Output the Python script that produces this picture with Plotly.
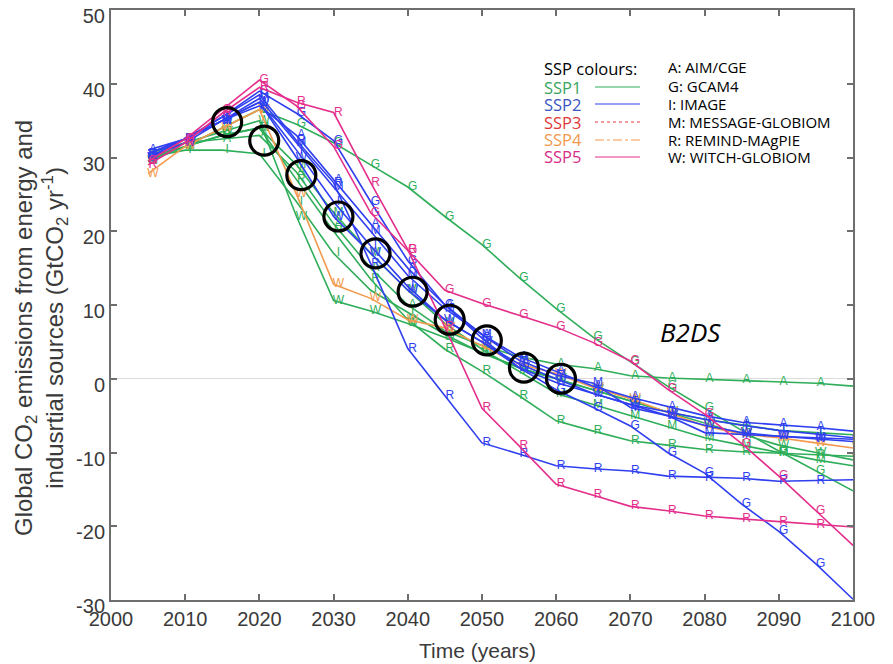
import plotly.graph_objects as go

# ---------------- data ----------------
years = [2005, 2010, 2015, 2020, 2025, 2030, 2035, 2040, 2045, 2050,
         2055, 2060, 2065, 2070, 2075, 2080, 2085, 2090, 2095, 2100]

# SSP1 (green)
ssp1_A = [30.5, 32.0, 32.5, 33.0, 28.0, 21.0, 15.0, 10.0, 6.5, 4.5, 3.0, 2.0, 1.4, 0.4, 0.1, -0.1, -0.2, -0.4, -0.6, -1.0]
ssp1_G = [30.0, 31.5, 34.0, 36.5, 34.5, 32.0, 29.0, 26.0, 22.0, 18.2, 13.7, 9.5, 5.6, 2.3, -1.0, -4.0, -7.0, -9.8, -12.5, -15.2]
ssp1_I = [30.0, 31.0, 31.0, 30.5, 24.0, 17.0, 12.0, 9.0, 6.0, 3.5, 1.5, 0.0, -1.5, -3.0, -4.5, -5.5, -6.3, -7.0, -7.3, -7.6]
ssp1_M = [29.5, 31.5, 33.0, 34.0, 29.0, 22.5, 17.0, 12.0, 7.5, 4.0, 1.0, -2.0, -3.5, -5.0, -6.4, -8.0, -9.0, -10.0, -11.0, -11.8]
ssp1_R = [29.5, 31.5, 33.0, 34.0, 27.0, 20.0, 13.5, 8.0, 4.0, 1.0, -2.3, -5.7, -7.1, -8.4, -9.0, -9.6, -9.9, -10.1, -10.3, -10.5]
ssp1_W = [29.5, 32.0, 33.5, 35.0, 22.0, 10.6, 9.2, 7.5, 5.6, 3.5, 1.5, 0.0, -1.5, -3.0, -4.5, -6.0, -7.5, -9.0, -10.0, -11.0]

# SSP2 (blue)
ssp2_A = [31.0, 32.5, 35.0, 37.0, 33.0, 27.0, 21.0, 15.0, 10.0, 6.0, 3.0, 1.0, -1.0, -2.5, -3.8, -5.0, -5.9, -6.2, -6.6, -7.1]
ssp2_G = [30.5, 32.5, 35.5, 39.0, 36.0, 32.3, 24.0, 16.0, 10.0, 5.5, 1.5, -1.5, -3.9, -6.4, -10.0, -12.8, -17.0, -20.7, -25.1, -29.9]
ssp2_I = [30.5, 32.5, 35.0, 37.5, 31.0, 24.0, 18.0, 12.5, 8.0, 5.0, 2.0, 0.0, -2.0, -3.5, -4.5, -5.5, -6.3, -7.0, -7.5, -8.0]
ssp2_M = [30.0, 32.5, 35.0, 38.0, 32.0, 26.0, 20.0, 14.0, 9.5, 6.0, 2.5, 0.5, -0.6, -3.9, -5.0, -7.3, -7.6, -7.8, -8.0, -8.2]
ssp2_R = [30.5, 32.5, 35.5, 38.5, 32.3, 26.6, 15.6, 4.1, -2.3, -8.7, -10.2, -11.8, -12.2, -12.5, -13.2, -13.4, -13.5, -13.9, -13.8, -13.7]
ssp2_W = [30.0, 32.0, 35.0, 37.5, 30.0, 22.0, 17.0, 12.0, 8.0, 5.0, 1.5, -0.5, -2.0, -3.5, -5.0, -6.3, -7.3, -7.8, -8.2, -8.5]

# SSP4 (orange)
ssp4_W = [27.8, 31.5, 34.0, 36.5, 25.0, 12.8, 10.9, 8.0, 6.9, 4.5, 2.0, 0.7, -1.2, -2.7, -4.6, -6.4, -7.5, -8.0, -8.7, -9.4]

# SSP5 (magenta)
ssp5_G = [29.5, 32.5, 36.5, 40.5, 37.0, 31.5, 22.5, 17.4, 12.0, 10.2, 8.6, 7.0, 4.9, 2.4, -1.4, -4.8, -8.8, -13.2, -17.9, -22.6]
ssp5_R = [29.0, 32.0, 36.0, 39.5, 37.5, 36.1, 26.6, 17.5, 7.0, -4.0, -9.1, -14.3, -15.8, -17.3, -17.9, -18.6, -19.0, -19.4, -19.8, -20.1]

# B2DS pathway (circled points)
b2ds_years = [2015, 2020, 2025, 2030, 2035, 2040, 2045, 2050, 2055, 2060]
b2ds_vals = [34.8, 32.3, 27.6, 22.0, 17.0, 11.8, 8.0, 5.2, 1.5, 0.0]

x_ticks = [2000, 2010, 2020, 2030, 2040, 2050, 2060, 2070, 2080, 2090, 2100]
y_ticks = [50, 40, 30, 20, 10, 0, -10, -20, -30]

ssp_names = ["SSP1", "SSP2", "SSP3", "SSP4", "SSP5"]
model_labels = ["A: AIM/CGE", "G: GCAM4", "I: IMAGE", "M: MESSAGE-GLOBIOM",
                "R: REMIND-MAgPIE", "W: WITCH-GLOBIOM"]

# ---------------- styles ----------------
COL = {"SSP1": "#2fae5a", "SSP2": "#2f3ff0", "SSP3": "#e83a3a",
       "SSP4": "#f39a4e", "SSP5": "#e42e8c"}
TXTCOL = {"SSP1": "#3aa55e", "SSP2": "#3a55c0", "SSP3": "#e03838",
          "SSP4": "#f2994e", "SSP5": "#d82e88"}
DASH = {"SSP1": "solid", "SSP2": "solid", "SSP3": "dot",
        "SSP4": "dashdot", "SSP5": "solid"}
LETTER_SHIFT = 0.65  # letters drawn slightly right of vertices

series = [
    ("SSP1", "A", ssp1_A), ("SSP1", "G", ssp1_G), ("SSP1", "I", ssp1_I),
    ("SSP1", "M", ssp1_M), ("SSP1", "R", ssp1_R), ("SSP1", "W", ssp1_W),
    ("SSP4", "W", ssp4_W),
    ("SSP2", "A", ssp2_A), ("SSP2", "G", ssp2_G), ("SSP2", "I", ssp2_I),
    ("SSP2", "M", ssp2_M), ("SSP2", "R", ssp2_R), ("SSP2", "W", ssp2_W),
    ("SSP5", "G", ssp5_G), ("SSP5", "R", ssp5_R),
]

fig = go.Figure()
for ssp, letter, vals in series:
    fig.add_trace(go.Scatter(
        x=years, y=vals, mode="lines",
        line=dict(color=COL[ssp], width=1.6),
        showlegend=False, hoverinfo="skip"))
    fig.add_trace(go.Scatter(
        x=[yr + LETTER_SHIFT for yr in years], y=vals, mode="text",
        text=[letter] * len(years),
        textfont=dict(color=COL[ssp], size=12, family="Liberation Sans"),
        showlegend=False, hoverinfo="skip"))

fig.add_trace(go.Scatter(
    x=[yr + LETTER_SHIFT for yr in b2ds_years], y=b2ds_vals, mode="markers",
    marker=dict(symbol="circle-open", size=29, color="black",
                line=dict(color="black", width=3.2)),
    showlegend=False, hoverinfo="skip"))

# ---------------- layout ----------------
OFF = 8  # page body margin in the screenshot
W, H = 885, 656
L, R, T, B = 103, 40, 2, 64
PW, PH = W - L - R, H - T - B


def px(sx):
    return (sx - OFF - L) / PW


def py(sy):
    return (H - B - (sy - OFF)) / PH


axis_font = dict(family="Liberation Sans Narrow, Liberation Sans, Arial", size=20, color="#3a3a3a")

fig.update_layout(
    width=W, height=H,
    margin=dict(l=L, r=R, t=T, b=B),
    paper_bgcolor="white", plot_bgcolor="white",
    xaxis=dict(range=[2000, 2100], tickvals=x_ticks, ticktext=[str(v) for v in x_ticks],
               showline=True, linecolor="#6e6e6e", linewidth=2, mirror="ticks",
               ticks="inside", ticklen=6, tickcolor="#6e6e6e", tickwidth=2,
               showgrid=False, zeroline=False, tickfont=axis_font, automargin=False,
               ticklabeloverflow="allow"),
    yaxis=dict(range=[-30, 50], tickvals=y_ticks, ticktext=[str(v) for v in y_ticks],
               showline=True, linecolor="#6e6e6e", linewidth=2, mirror="ticks",
               ticks="inside", ticklen=6, tickcolor="#6e6e6e", tickwidth=2,
               showgrid=False, zeroline=True, zerolinecolor="#dcdcdc", zerolinewidth=1,
               tickfont=axis_font, automargin=False,
               ticklabeloverflow="allow", ticklabelshift=6),
)

ann = []
ann.append(dict(x=px(41), y=py(328), xref="paper", yref="paper", textangle=-90,
                xanchor="center", yanchor="middle",
                text="Global CO<sub>2</sub> emissions from energy and<br>indusrtial sources (GtCO<sub>2</sub> yr<sup>-1</sup>)",
                showarrow=False, font=dict(family="Liberation Sans, Arial", size=24, color="#3a3a3a")))
ann.append(dict(x=px(477), y=py(650), xref="paper", yref="paper",
                xanchor="center", yanchor="middle",
                text="Time (years)", showarrow=False,
                font=dict(family="Liberation Sans Narrow, Liberation Sans, Arial", size=21, color="#3a3a3a")))
ann.append(dict(x=px(690), y=py(332), xref="paper", yref="paper",
                xanchor="center", yanchor="middle",
                text="<i>B2DS</i>", showarrow=False,
                font=dict(family="Open Sans", size=26, color="black")))

leg_y = [87, 104, 122, 140, 157]
ann.append(dict(x=px(542), y=py(68), xref="paper", yref="paper",
                xanchor="left", yanchor="middle",
                text="SSP colours:", showarrow=False,
                font=dict(family="Open Sans", size=16.5, color="black")))
shapes = []
for name, yy in zip(ssp_names, leg_y):
    ann.append(dict(x=px(542), y=py(yy), xref="paper", yref="paper",
                    xanchor="left", yanchor="middle",
                    text=name, showarrow=False,
                    font=dict(family="Open Sans", size=16.5, color=TXTCOL[name])))
    shapes.append(dict(type="line", xref="paper", yref="paper",
                       x0=px(595), x1=px(640), y0=py(yy), y1=py(yy),
                       line=dict(color=COL[name], width=1.2, dash=DASH[name])))
for lab, yy in zip(model_labels, [67, 86, 104, 122, 140, 157]):
    ann.append(dict(x=px(666), y=py(yy), xref="paper", yref="paper",
                    xanchor="left", yanchor="middle",
                    text=lab, showarrow=False,
                    font=dict(family="Open Sans", size=15, color="black")))

fig.update_layout(annotations=ann, shapes=shapes)

fig.write_html("out.html")
